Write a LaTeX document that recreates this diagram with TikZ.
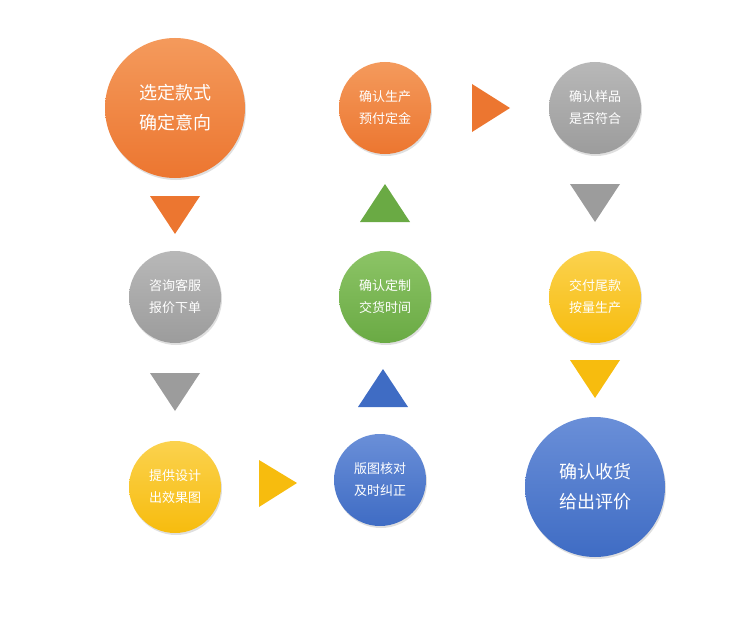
\documentclass[tikz,border=0pt]{standalone}
\usepackage{fontspec}
\newfontfamily\cjk{Noto Sans CJK SC}
\usetikzlibrary{shadows}
\definecolor{cor}{HTML}{EC7630}\definecolor{corl}{HTML}{F49A5C}
\definecolor{cgr}{HTML}{9C9C9C}\definecolor{cgrl}{HTML}{B8B8B8}
\definecolor{cye}{HTML}{F7BC0E}\definecolor{cyel}{HTML}{FBD24E}
\definecolor{cbl}{HTML}{3F6CC4}\definecolor{cbll}{HTML}{6A8FD8}
\definecolor{cgn}{HTML}{6AAA44}\definecolor{cgnl}{HTML}{8CC466}
\tikzset{
 ball/.style n args={3}{circle,minimum size=#1,inner sep=0pt,top color=#3,bottom color=#2,
   drop shadow={opacity=0.25,shadow xshift=1pt,shadow yshift=-2pt},
   text=white,align=center,font=\cjk\fontsize{13}{22}\selectfont},
 big/.style={font=\cjk\fontsize{18}{30}\selectfont},
 tri/.style={fill=#1,draw=none}
}
\begin{document}
\begin{tikzpicture}[x=1pt,y=-1pt]
\useasboundingbox (0,0) rectangle (750,618);
\node[ball={140pt}{cor}{corl},big] (a) at (175,108) {选定款式\\确定意向};
\node[ball={92pt}{cgr}{cgrl}] (b) at (175,297) {咨询客服\\报价下单};
\node[ball={92pt}{cye}{cyel}] (c) at (175,487) {提供设计\\出效果图};
\node[ball={92pt}{cbl}{cbll}] (d) at (380,480) {版图核对\\及时纠正};
\node[ball={92pt}{cgn}{cgnl}] (e) at (385,297) {确认定制\\交货时间};
\node[ball={92pt}{cor}{corl}] (f) at (385,108) {确认生产\\预付定金};
\node[ball={92pt}{cgr}{cgrl}] (g) at (595,108) {确认样品\\是否符合};
\node[ball={92pt}{cye}{cyel}] (h) at (595,297) {交付尾款\\按量生产};
\node[ball={140pt}{cbl}{cbll},big] (i) at (595,487) {确认收货\\给出评价};
% arrows (triangles)
\fill[cor] (150,196) -- (200,196) -- (175,234) -- cycle;
\fill[cgr] (150,373) -- (200,373) -- (175,411) -- cycle;
\fill[cye] (259,460) -- (297,483) -- (259,507) -- cycle;
\fill[cbl] (358,407) -- (408,407) -- (383,369) -- cycle;
\fill[cgn] (360,222) -- (410,222) -- (385,184) -- cycle;
\fill[cor] (472,84) -- (510,108) -- (472,132) -- cycle;
\fill[cgr] (570,184) -- (620,184) -- (595,222) -- cycle;
\fill[cye] (570,360) -- (620,360) -- (595,398) -- cycle;
\end{tikzpicture}
\end{document}
